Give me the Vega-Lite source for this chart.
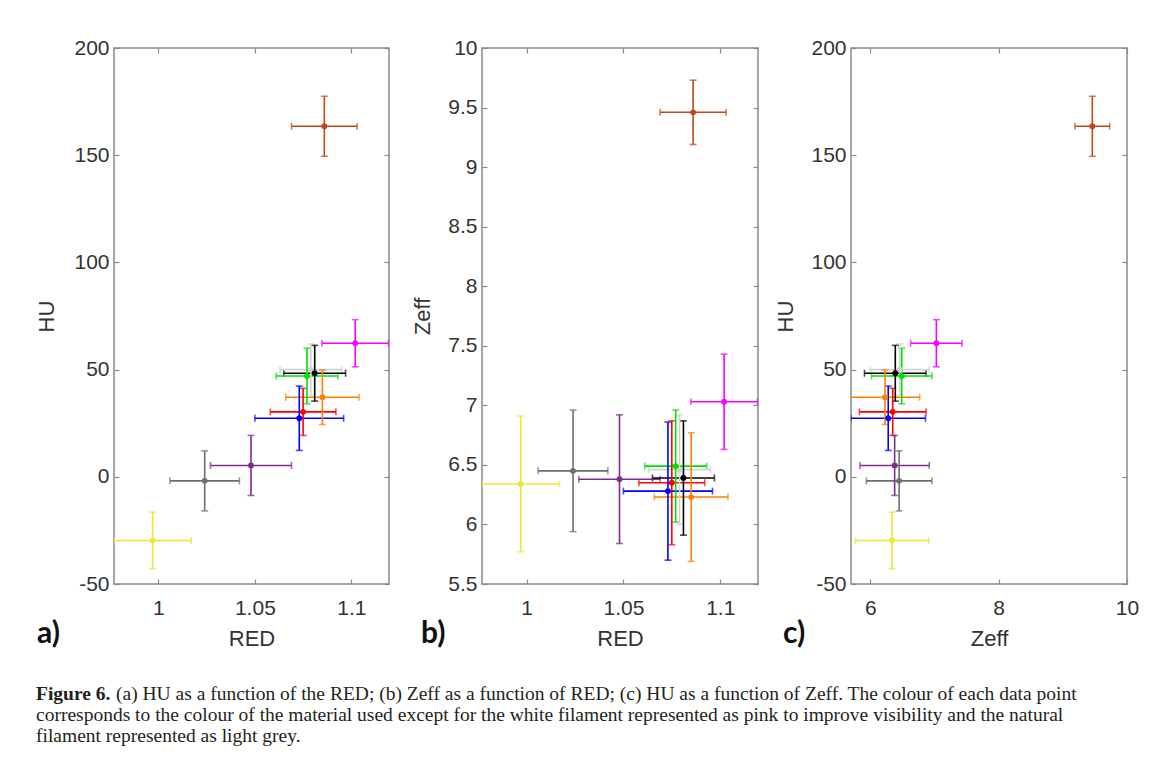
{
  "$schema": "https://vega.github.io/schema/vega-lite/v6.json",
  "padding": {"left": 35, "top": 36, "right": 5, "bottom": 5},
  "background": "white",
  "datasets": {
    "materials": [
      {"material": "copper", "RED": 1.086, "RED_err": 0.017, "HU": 163.5, "HU_err": 14, "Zeff": 9.46, "Zeff_err": 0.27},
      {"material": "yellow", "RED": 0.997, "RED_err": 0.020, "HU": -29.7, "HU_err": 13.2, "Zeff": 6.34, "Zeff_err": 0.57},
      {"material": "grey", "RED": 1.024, "RED_err": 0.018, "HU": -1.9, "HU_err": 14, "Zeff": 6.45, "Zeff_err": 0.51},
      {"material": "purple", "RED": 1.048, "RED_err": 0.021, "HU": 5.3, "HU_err": 14, "Zeff": 6.38, "Zeff_err": 0.54},
      {"material": "natural", "RED": 1.079, "RED_err": 0.016, "HU": 50, "HU_err": 12, "Zeff": 6.46, "Zeff_err": 0.46},
      {"material": "blue", "RED": 1.073, "RED_err": 0.023, "HU": 27.3, "HU_err": 15, "Zeff": 6.28, "Zeff_err": 0.58},
      {"material": "red", "RED": 1.075, "RED_err": 0.017, "HU": 30.3, "HU_err": 11, "Zeff": 6.35, "Zeff_err": 0.52},
      {"material": "orange", "RED": 1.085, "RED_err": 0.019, "HU": 37.1, "HU_err": 12.7, "Zeff": 6.23, "Zeff_err": 0.54},
      {"material": "green", "RED": 1.077, "RED_err": 0.016, "HU": 47, "HU_err": 13, "Zeff": 6.49, "Zeff_err": 0.47},
      {"material": "black", "RED": 1.081, "RED_err": 0.016, "HU": 48.3, "HU_err": 13, "Zeff": 6.39, "Zeff_err": 0.48},
      {"material": "white", "RED": 1.102, "RED_err": 0.0172, "HU": 62.3, "HU_err": 11, "Zeff": 7.03, "Zeff_err": 0.40}
    ]
  },
  "vconcat": [
    {
      "bounds": "flush",
      "spacing": 93,
      "hconcat": [
        {
          "width": 275, "height": 536,
          "data": {"name": "materials"},
          "layer": [
            {
              "mark": {"type": "errorbar", "ticks": {"size": 7}, "thickness": 1.6, "clip": true},
              "encoding": {
                "x": {"field": "RED", "type": "quantitative", "scale": {"domain": [0.977, 1.1195], "nice": false, "zero": false}, "axis": {"orient": "bottom", "values": [1, 1.05, 1.1], "title": "RED", "labelExpr": "'' + datum.value"}},
                "xError": {"field": "RED_err"},
                "y": {"field": "HU", "type": "quantitative", "scale": {"domain": [-50, 200], "nice": false, "zero": false}, "axis": {"orient": "left", "values": [-50, 0, 50, 100, 150, 200], "title": "HU", "titlePadding": 15, "labelExpr": "'' + datum.value"}},
                "color": {"field": "material", "type": "nominal", "legend": null, "scale": {"domain": ["copper", "white", "natural", "green", "black", "orange", "red", "blue", "purple", "grey", "yellow"], "range": ["#C0461C", "#FF00FF", "#D2D2D2", "#00E000", "#000000", "#FF8000", "#FF0000", "#0000FF", "#7B2D8E", "#6E6E6E", "#E8E83A"]}}
              }
            },
            {
              "mark": {"type": "errorbar", "ticks": {"size": 7}, "thickness": 1.6, "clip": true},
              "encoding": {
                "x": {"field": "RED", "type": "quantitative", "axis": {"orient": "top", "values": [1, 1.05, 1.1], "labels": false, "title": null}},
                "y": {"field": "HU", "type": "quantitative", "axis": {"orient": "right", "values": [-50, 0, 50, 100, 150, 200], "labels": false, "title": null}},
                "yError": {"field": "HU_err"},
                "color": {"field": "material", "type": "nominal", "legend": null}
              }
            },
            {
              "mark": {"type": "circle", "size": 34, "opacity": 1},
              "encoding": {
                "x": {"field": "RED", "type": "quantitative", "axis": null},
                "y": {"field": "HU", "type": "quantitative", "axis": null},
                "color": {"field": "material", "type": "nominal", "legend": null}
              }
            },
            {
              "data": {"values": [{"label": "a)"}]},
              "mark": {"type": "text", "align": "left", "baseline": "middle", "dx": -77, "dy": 50, "font": "Lato", "fontSize": 30, "fontWeight": "bold", "color": "#111111"},
              "encoding": {
                "x": {"datum": 0.977, "type": "quantitative", "axis": null},
                "y": {"datum": -50, "type": "quantitative", "axis": null},
                "text": {"field": "label"}
              }
            }
          ]
        },
        {
          "width": 276, "height": 536,
          "data": {"name": "materials"},
          "layer": [
            {
              "mark": {"type": "errorbar", "ticks": {"size": 7}, "thickness": 1.6, "clip": true},
              "encoding": {
                "x": {"field": "RED", "type": "quantitative", "scale": {"domain": [0.977, 1.1195], "nice": false, "zero": false}, "axis": {"orient": "bottom", "values": [1, 1.05, 1.1], "title": "RED", "labelExpr": "'' + datum.value"}},
                "xError": {"field": "RED_err"},
                "y": {"field": "Zeff", "type": "quantitative", "scale": {"domain": [5.5, 10], "nice": false, "zero": false}, "axis": {"orient": "left", "values": [5.5, 6, 6.5, 7, 7.5, 8, 8.5, 9, 9.5, 10], "title": "Zeff", "labelExpr": "'' + datum.value"}},
                "color": {"field": "material", "type": "nominal", "legend": null, "scale": {"domain": ["copper", "white", "natural", "green", "black", "orange", "red", "blue", "purple", "grey", "yellow"], "range": ["#C0461C", "#FF00FF", "#D2D2D2", "#00E000", "#000000", "#FF8000", "#FF0000", "#0000FF", "#7B2D8E", "#6E6E6E", "#E8E83A"]}}
              }
            },
            {
              "mark": {"type": "errorbar", "ticks": {"size": 7}, "thickness": 1.6, "clip": true},
              "encoding": {
                "x": {"field": "RED", "type": "quantitative", "axis": {"orient": "top", "values": [1, 1.05, 1.1], "labels": false, "title": null}},
                "y": {"field": "Zeff", "type": "quantitative", "axis": {"orient": "right", "values": [5.5, 6, 6.5, 7, 7.5, 8, 8.5, 9, 9.5, 10], "labels": false, "title": null}},
                "yError": {"field": "Zeff_err"},
                "color": {"field": "material", "type": "nominal", "legend": null}
              }
            },
            {
              "mark": {"type": "circle", "size": 34, "opacity": 1},
              "encoding": {
                "x": {"field": "RED", "type": "quantitative", "axis": null},
                "y": {"field": "Zeff", "type": "quantitative", "axis": null},
                "color": {"field": "material", "type": "nominal", "legend": null}
              }
            },
            {
              "data": {"values": [{"label": "b)"}]},
              "mark": {"type": "text", "align": "left", "baseline": "middle", "dx": -61, "dy": 50, "font": "Lato", "fontSize": 30, "fontWeight": "bold", "color": "#111111"},
              "encoding": {
                "x": {"datum": 0.977, "type": "quantitative", "axis": null},
                "y": {"datum": 5.5, "type": "quantitative", "axis": null},
                "text": {"field": "label"}
              }
            }
          ]
        },
        {
          "width": 276, "height": 536,
          "data": {"name": "materials"},
          "layer": [
            {
              "mark": {"type": "errorbar", "ticks": {"size": 7}, "thickness": 1.6, "clip": true},
              "encoding": {
                "x": {"field": "Zeff", "type": "quantitative", "scale": {"domain": [5.7, 10], "nice": false, "zero": false}, "axis": {"orient": "bottom", "values": [6, 8, 10], "title": "Zeff", "labelExpr": "'' + datum.value"}},
                "xError": {"field": "Zeff_err"},
                "y": {"field": "HU", "type": "quantitative", "scale": {"domain": [-50, 200], "nice": false, "zero": false}, "axis": {"orient": "left", "values": [-50, 0, 50, 100, 150, 200], "title": "HU", "labelExpr": "'' + datum.value"}},
                "color": {"field": "material", "type": "nominal", "legend": null, "scale": {"domain": ["copper", "white", "natural", "green", "black", "orange", "red", "blue", "purple", "grey", "yellow"], "range": ["#C0461C", "#FF00FF", "#D2D2D2", "#00E000", "#000000", "#FF8000", "#FF0000", "#0000FF", "#7B2D8E", "#6E6E6E", "#E8E83A"]}}
              }
            },
            {
              "mark": {"type": "errorbar", "ticks": {"size": 7}, "thickness": 1.6, "clip": true},
              "encoding": {
                "x": {"field": "Zeff", "type": "quantitative", "axis": {"orient": "top", "values": [6, 8, 10], "labels": false, "title": null}},
                "y": {"field": "HU", "type": "quantitative", "axis": {"orient": "right", "values": [-50, 0, 50, 100, 150, 200], "labels": false, "title": null}},
                "yError": {"field": "HU_err"},
                "color": {"field": "material", "type": "nominal", "legend": null}
              }
            },
            {
              "mark": {"type": "circle", "size": 34, "opacity": 1},
              "encoding": {
                "x": {"field": "Zeff", "type": "quantitative", "axis": null},
                "y": {"field": "HU", "type": "quantitative", "axis": null},
                "color": {"field": "material", "type": "nominal", "legend": null}
              }
            },
            {
              "data": {"values": [{"label": "c)"}]},
              "mark": {"type": "text", "align": "left", "baseline": "middle", "dx": -68, "dy": 50, "font": "Lato", "fontSize": 30, "fontWeight": "bold", "color": "#111111"},
              "encoding": {
                "x": {"datum": 5.7, "type": "quantitative", "axis": null},
                "y": {"datum": -50, "type": "quantitative", "axis": null},
                "text": {"field": "label"}
              }
            }
          ]
        }
      ]
    },
    {
      "width": 1080, "height": 62,
      "view": {"stroke": null},
      "layer": [
        {
          "data": {"values": [{"line": 1, "t": "Figure 6."}]},
          "mark": {"type": "text", "align": "left", "baseline": "middle", "dx": -78, "font": "Liberation Serif", "fontSize": 19.5, "fontWeight": "bold", "color": "#231f20"},
          "encoding": {
            "x": {"value": 0},
            "y": {"field": "line", "type": "quantitative", "scale": {"domain": [0.5, 3.5], "reverse": true, "zero": false, "nice": false}, "axis": null},
            "text": {"field": "t"}
          }
        },
        {
          "data": {"values": [{"line": 1, "t": "(a) HU as a function of the RED; (b) Zeff as a function of RED; (c) HU as a function of Zeff. The colour of each data point"}]},
          "mark": {"type": "text", "align": "left", "baseline": "middle", "dx": 2, "font": "Liberation Serif", "fontSize": 19.5, "color": "#231f20"},
          "encoding": {
            "x": {"value": 0},
            "y": {"field": "line", "type": "quantitative", "scale": {"domain": [0.5, 3.5], "reverse": true, "zero": false, "nice": false}, "axis": null},
            "text": {"field": "t"}
          }
        },
        {
          "data": {"values": [
            {"line": 2, "t": "corresponds to the colour of the material used except for the white filament represented as pink to improve visibility and the natural"},
            {"line": 3, "t": "filament represented as light grey."}
          ]},
          "mark": {"type": "text", "align": "left", "baseline": "middle", "dx": -78, "font": "Liberation Serif", "fontSize": 19.5, "color": "#231f20"},
          "encoding": {
            "x": {"value": 0},
            "y": {"field": "line", "type": "quantitative", "scale": {"domain": [0.5, 3.5], "reverse": true, "zero": false, "nice": false}, "axis": null},
            "text": {"field": "t"}
          }
        }
      ]
    }
  ],
  "spacing": 34,
  "config": {
    "view": {"stroke": "#8a8a8a", "strokeWidth": 1.5},
    "axis": {
      "domain": false, "grid": false, "ticks": true, "tickSize": -5, "tickColor": "#8a8a8a", "tickWidth": 1.2,
      "labelFont": "Liberation Sans", "labelFontSize": 21, "labelColor": "#333333",
      "labelFlush": false, "labelOverlap": false, "labelBound": false,
      "titleFont": "Liberation Sans", "titleFontSize": 22, "titleFontWeight": "normal", "titleColor": "#333333"
    },
    "axisBottom": {"labelPadding": 18, "titlePadding": 10},
    "axisLeft": {"labelPadding": 10, "titlePadding": 13}
  }
}
